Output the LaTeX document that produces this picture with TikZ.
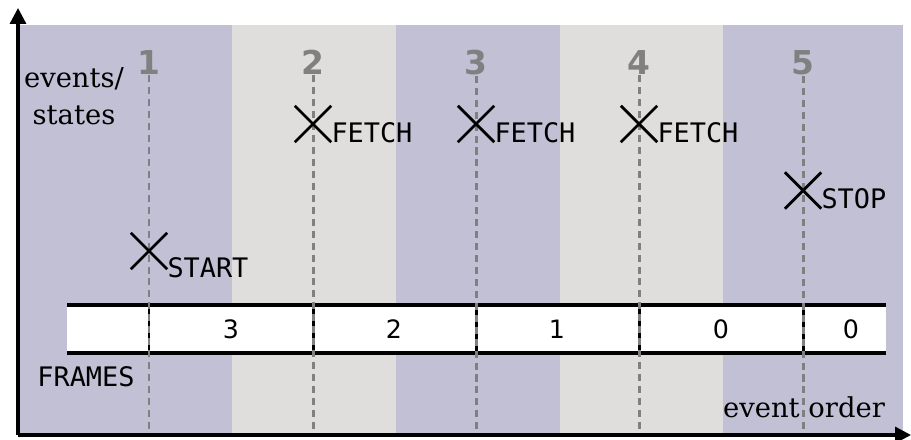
\documentclass[tikz,border=0pt]{standalone}
\usepackage{fontspec}
\setmainfont{DejaVu Serif}
\setsansfont{DejaVu Sans}
\setmonofont{DejaVu Sans Mono}
\usetikzlibrary{arrows.meta,shapes.misc}
\definecolor{bandA}{RGB}{193,192,212}
\definecolor{bandB}{RGB}{223,222,220}
\definecolor{evgray}{RGB}{128,128,128}
\tikzset{
  axis/.style={line width=1.8pt,-{Triangle[length=9pt,width=9pt]}},
  evline/.style={evgray,line width=1.7pt,dash pattern=on 4pt off 2.8pt},
  evnum/.style={evgray,font=\sffamily\bfseries\fontsize{18.7}{20}\selectfont,inner sep=0pt,anchor=base},
  evmark/.style={cross out,draw,line width=1.6pt,minimum size=0.67cm,inner sep=0pt},
  evname/.style={font=\ttfamily\fontsize{15.3}{18}\selectfont,inner sep=0pt,anchor=base west},
  cnt/.style={font=\sffamily\fontsize{14.4}{17}\selectfont},
}
\begin{document}
\begin{tikzpicture}[x=0.02cm,y=0.02cm]
    \useasboundingbox (-18,-4) rectangle (893,435);
    \coordinate (o) at (0,0);
    \coordinate (ytip) at (0,427);
    \coordinate (xtip) at (893,0);
    % one band per event
    \foreach \a/\b/\c in {0/214/bandA,214/378/bandB,378/542/bandA,542/705/bandB,705/885/bandA}
        \fill[\c] (\a,0) rectangle (\b,410);
    % frames strip
    \fill[white] (49,82) rectangle (868,130);
    \draw[line width=2pt] (49,130) -- (868,130) (49,82) -- (868,82);
    \foreach \i/\x in {1/131,2/295,3/458,4/621,5/785} {
        \node[evnum] (n\i) at (\x,360) {\i};
        \draw[line width=1.7pt] (\x,82) -- (\x,130);
        \draw[evline] (n\i) -- (n\i |- o);
    }
    \foreach \x/\v [count=\k] in {213/3,376/2,539/1,703/0,833/0}
        \node[cnt] (f\k) at (\x,106) {\v};
    % events
    \node[evmark] (start) at (131,184) {};
    \node[evname] (startl) at ([yshift=-0.16cm]start.south east) {START};
    \foreach \x [count=\k] in {295,458,621} {
        \node[evmark] (fetch\k) at (\x,311) {};
        \node[evname] (fetchl\k) at (fetch\k.south east) {FETCH};
    }
    \node[evmark] (stop) at (785,244.5) {};
    \node[evname] (stopl) at (stop.south east) {STOP};
    % labels
    \node[evname,anchor=base] (frm) at (68,49) {FRAMES};
    \node[font=\fontsize{15.6}{21.4}\selectfont,inner sep=0pt,anchor=base] (evs) at (56,347.7)
        {\begin{tabular}[t]{@{}c@{}}events/\\states\end{tabular}};
    \node[font=\fontsize{15.6}{18}\selectfont,anchor=base] (ord) at (786,17.7) {event order};
    % axes
    \draw[axis] (o) -- (ytip);
    \draw[axis] (o) -- (xtip);
\end{tikzpicture}
\end{document}
